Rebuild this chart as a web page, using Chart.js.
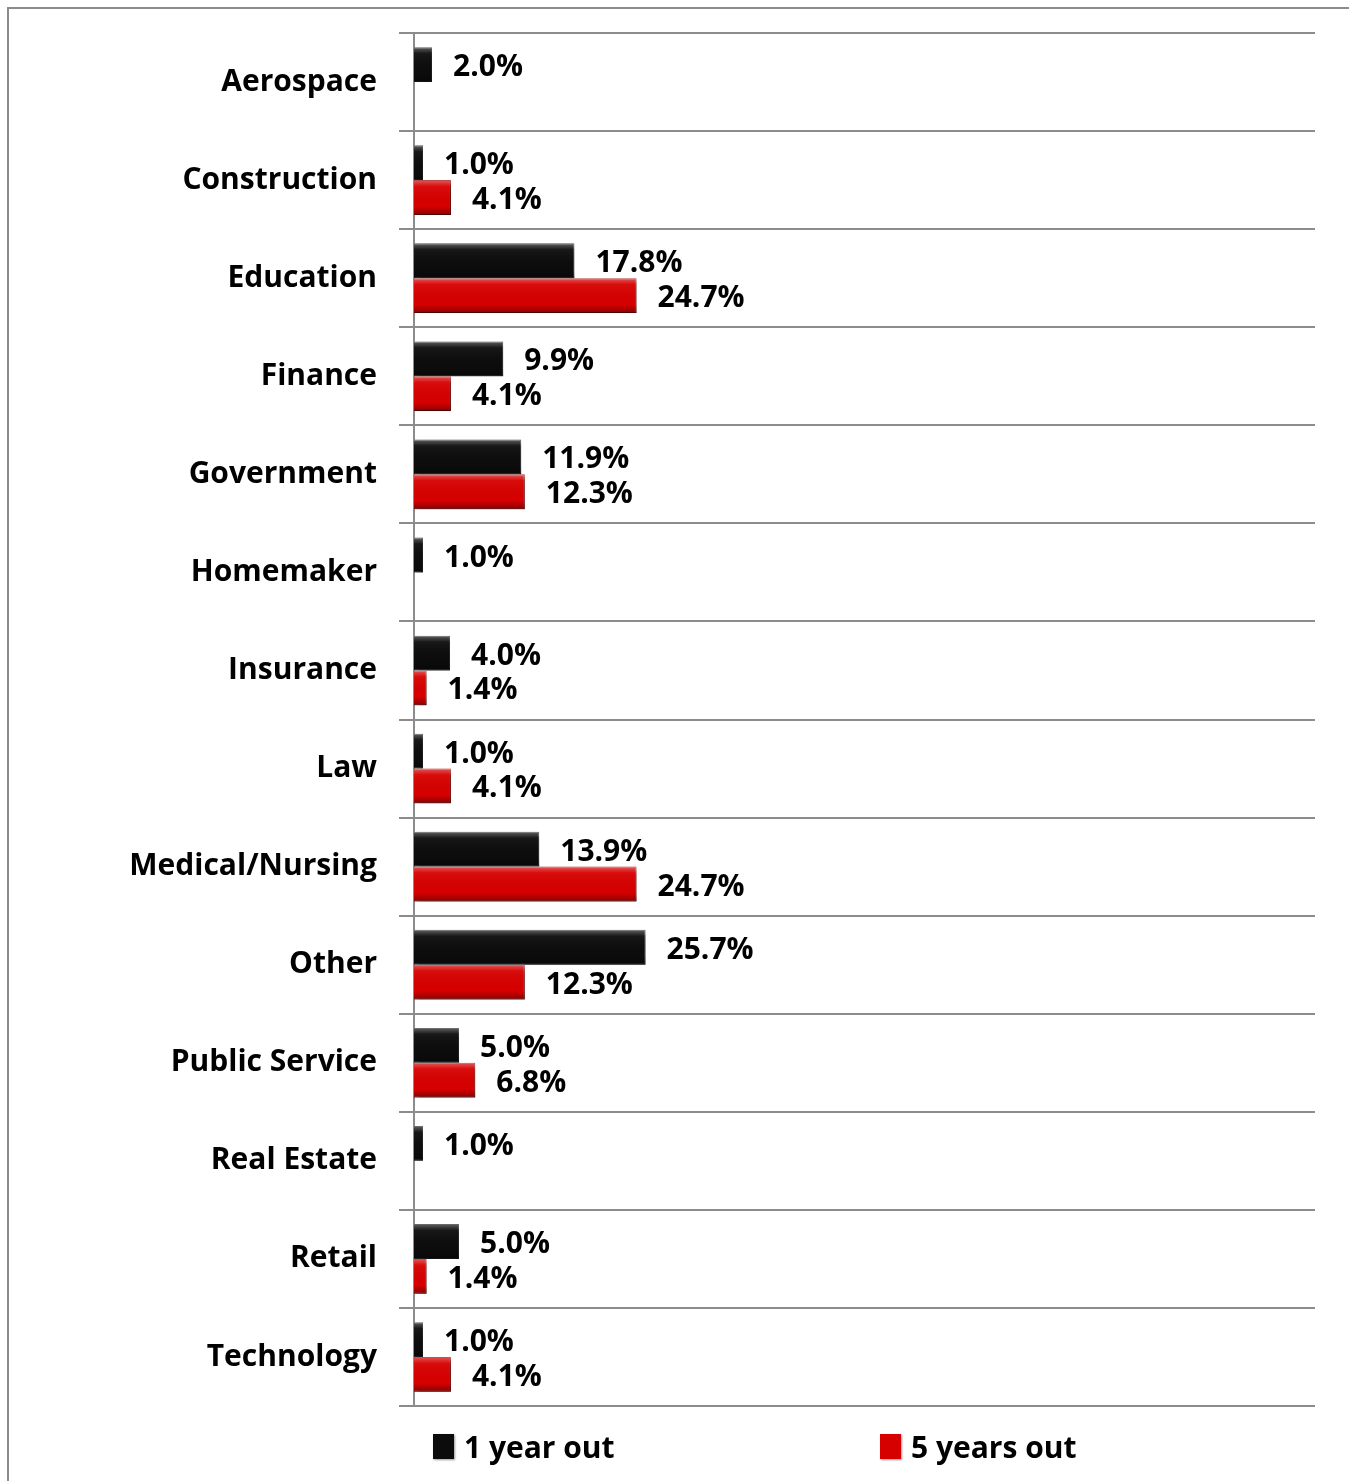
<!DOCTYPE html>
<html>
<head>
<meta charset="utf-8">
<script src="https://cdn.jsdelivr.net/npm/chart.js@4/dist/chart.umd.min.js"></script>
<style>
  html, body { margin: 0; padding: 0; background: #fff; }
  #wrap { position: relative; width: 1349px; height: 1481px; overflow: hidden; }
  #chart { position: absolute; left: 0; top: 0; }
  .leg { position: absolute; top: 1426px; display: flex; align-items: center;
         font: bold 30px "Open Sans", sans-serif; color: #000; }
  .leg i { display: inline-block; width: 21px; height: 25px; margin-right: 10px;
           box-shadow: 1px 1px 2px rgba(0,0,0,0.4); }
</style>
</head>
<body>
<div id="wrap">
  <canvas id="chart" width="1349" height="1481"></canvas>
  <div id="legend"></div>
</div>
<script>
// industries of employment, % of respondents
const categories = ['Aerospace', 'Construction', 'Education', 'Finance', 'Government',
  'Homemaker', 'Insurance', 'Law', 'Medical/Nursing', 'Other', 'Public Service',
  'Real Estate', 'Retail', 'Technology'];
const oneYearOut   = [2.0, 1.0, 17.8, 9.9, 11.9, 1.0, 4.0, 1.0, 13.9, 25.7, 5.0, 1.0, 5.0, 1.0];
const fiveYearsOut = [null, 4.1, 24.7, 4.1, 12.3, null, 1.4, 4.1, 24.7, 12.3, 6.8, null, 1.4, 4.1];
const seriesNames  = ['1 year out', '5 years out'];
const seriesColors = ['#0c0c0c', '#d60000'];
const legendLeft   = [433, 880];

const GRID = '#8c8c8c';
const FONT = { family: '"Open Sans", sans-serif', weight: 'bold', size: 30 };

// outer frame (only top/left edges are visible in the original)
const framePlugin = {
  id: 'frame',
  beforeDraw(chart) {
    const ctx = chart.ctx;
    ctx.save();
    ctx.strokeStyle = GRID;
    ctx.lineWidth = 2;
    ctx.beginPath();
    ctx.moveTo(8, chart.height);
    ctx.lineTo(8, 8);
    ctx.lineTo(chart.width, 8);
    ctx.stroke();
    ctx.restore();
  }
};

// drop shadow under bars, a bevel-ish shading on top, then value labels
const barLabels = {
  id: 'barLabels',
  beforeDatasetsDraw(chart) {
    const ctx = chart.ctx;
    ctx.save();
    ctx.shadowColor = 'rgba(0,0,0,0.4)';
    ctx.shadowBlur = 5;
    ctx.shadowOffsetX = 3;
    ctx.shadowOffsetY = 3;
  },
  afterDatasetsDraw(chart) {
    const ctx = chart.ctx;
    ctx.restore();
    ctx.save();
    chart.data.datasets.forEach((ds, i) => {
      chart.getDatasetMeta(i).data.forEach((bar, j) => {
        if (ds.data[j] == null) return;
        const { x, y, base, height } = bar.getProps(['x', 'y', 'base', 'height']);
        const top = y - height / 2;
        const g = ctx.createLinearGradient(0, top, 0, top + height);
        g.addColorStop(0, 'rgba(255,255,255,0.35)');
        g.addColorStop(0.18, 'rgba(255,255,255,0.05)');
        g.addColorStop(0.75, 'rgba(0,0,0,0)');
        g.addColorStop(1, 'rgba(0,0,0,0.35)');
        ctx.fillStyle = g;
        ctx.fillRect(base, top, x - base, height);
      });
    });
    ctx.font = `bold ${FONT.size}px ${FONT.family}`;
    ctx.fillStyle = '#000';
    ctx.textAlign = 'left';
    ctx.textBaseline = 'middle';
    chart.data.datasets.forEach((ds, i) => {
      chart.getDatasetMeta(i).data.forEach((bar, j) => {
        const v = ds.data[j];
        if (v == null) return;
        ctx.fillText(v.toFixed(1) + '%', bar.x + 21, bar.y + 3);
      });
    });
    ctx.restore();
  }
};

const chart = new Chart(document.getElementById('chart'), {
  type: 'bar',
  data: {
    labels: categories,
    datasets: [
      { label: seriesNames[0], data: oneYearOut, backgroundColor: seriesColors[0],
        borderColor: '#2a2a2a', borderWidth: 1 },
      { label: seriesNames[1], data: fiveYearsOut, backgroundColor: seriesColors[1],
        borderColor: '#a80000', borderWidth: 1 },
    ],
  },
  options: {
    indexAxis: 'y',
    responsive: false,
    animation: false,
    categoryPercentage: 0.71,
    barPercentage: 1.0,
    layout: { padding: { top: 33, right: 34, bottom: 75, left: 0 } },
    plugins: { legend: { display: false }, tooltip: { enabled: false } },
    scales: {
      x: { min: 0, max: 100, display: false },
      y: {
        offset: true,
        grid: { color: GRID, lineWidth: 2, offset: true, tickLength: 15 },
        border: { display: true, color: GRID, width: 2 },
        ticks: { font: FONT, color: '#000', padding: 22 },
        afterFit(s) {
          s.width = 414;
          s.paddingTop = 0;
          s.paddingBottom = 0;
        },
      },
    },
  },
  plugins: [framePlugin, barLabels],
});

// legend below the plot
document.getElementById('legend').innerHTML = chart.data.datasets.map((ds, i) =>
  `<div class="leg" style="left:${legendLeft[i]}px"><i style="background:${ds.backgroundColor}"></i>${ds.label}</div>`
).join('');
</script>
</body>
</html>
